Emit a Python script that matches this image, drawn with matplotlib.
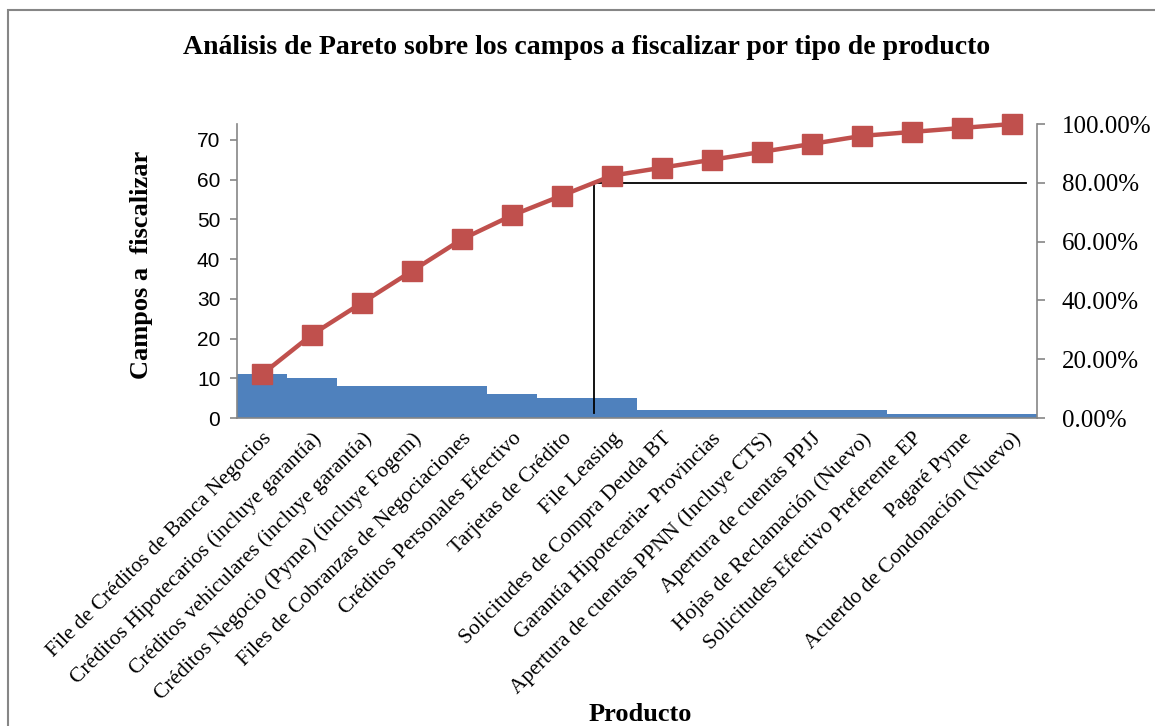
import numpy as np
import matplotlib
matplotlib.use("Agg")
import matplotlib.pyplot as plt
from matplotlib.patches import Rectangle
from matplotlib.ticker import FuncFormatter

productos = [
    "File de Créditos de Banca Negocios",
    "Créditos Hipotecarios (incluye garantía)",
    "Créditos vehiculares (incluye garantía)",
    "Créditos Negocio (Pyme) (incluye Fogem)",
    "Files de Cobranzas de Negociaciones",
    "Créditos Personales Efectivo",
    "Tarjetas de Crédito",
    "File Leasing",
    "Solicitudes de Compra Deuda BT",
    "Garantía Hipotecaria- Provincias",
    "Apertura de cuentas PPNN (Incluye CTS)",
    "Apertura de cuentas PPJJ",
    "Hojas de Reclamación (Nuevo)",
    "Solicitudes Efectivo Preferente EP",
    "Pagaré Pyme",
    "Acuerdo de Condonación (Nuevo)",
]
campos = [11, 10, 8, 8, 8, 6, 5, 5, 2, 2, 2, 2, 2, 1, 1, 1]
acumulado_pct = [14.86, 28.38, 39.19, 50.00, 60.81, 68.92, 75.68, 82.43,
                 85.14, 87.84, 90.54, 93.24, 95.95, 97.30, 98.65, 100.00]
pct_ticks = [0, 20, 40, 60, 80, 100]

# 80% cut-off guide lines (position)
corte_x = 6.64
corte_y = 80
corte_x_fin = 15.28
corte_y_ini = 1.7

azul = "#4F81BD"
rojo = "#C0504D"
gris = "#868686"
serif = ["Liberation Serif", "DejaVu Serif"]
sans = ["Liberation Sans", "DejaVu Sans"]

fig = plt.figure(figsize=(11.55, 7.26), dpi=100)
ax = fig.add_axes([0.2052, 0.4242, 0.6926, 0.405])

x = np.arange(len(productos))
ax.bar(x, campos, width=1.0, color=azul, zorder=2)
ax.set_xlim(-0.5, len(productos) - 0.5)
ax.set_ylim(0, sum(campos))
ax.set_yticks(range(0, 80, 10))
for lbl in ax.get_yticklabels():
    lbl.set_family(sans)
    lbl.set_fontsize(15)
ax.set_xticks(x)
ax.set_xticklabels(productos, rotation=45, ha="right", rotation_mode="anchor",
                   family=serif, fontsize=15.5)
ax.tick_params(axis="x", length=0, pad=8)
ax.tick_params(axis="y", color=gris, length=5, width=1.2, pad=7)
for s in ["top", "right"]:
    ax.spines[s].set_visible(False)
for s in ["left", "bottom"]:
    ax.spines[s].set_color(gris)
    ax.spines[s].set_linewidth(1.2)

ax.set_ylabel("Campos a  fiscalizar", family=serif, fontweight="bold", fontsize=19)
ax.yaxis.set_label_coords(-0.105, 0.52)
ax.set_xlabel("Producto", family=serif, fontweight="bold", fontsize=19)
ax.xaxis.set_label_coords(0.504, -0.97)

ax2 = ax.twinx()
ax2.set_ylim(0, 100)
ax2.set_yticks(pct_ticks)
ax2.yaxis.set_major_formatter(FuncFormatter(lambda v, p: f"{v:.2f}%"))
for lbl in ax2.get_yticklabels():
    lbl.set_family(serif)
    lbl.set_fontsize(18)
ax2.tick_params(axis="y", color=gris, length=6, width=1.2, pad=12)
for s in ["top", "left", "bottom"]:
    ax2.spines[s].set_visible(False)
ax2.spines["right"].set_color(gris)
ax2.spines["right"].set_linewidth(1.2)

ax2.plot([corte_x, corte_x], [corte_y_ini, corte_y], color="black", lw=1.3, zorder=1)
ax2.plot([corte_x, corte_x_fin], [corte_y, corte_y], color="black", lw=1.3, zorder=1)
ax2.plot(x, acumulado_pct, color=rojo, lw=3.2, marker="s", markersize=14,
         zorder=3, clip_on=False)

fig.text(0.5 * (178 + 995) / 1155, 1 - 47 / 726,
         "Análisis de Pareto sobre los campos a fiscalizar por tipo de producto",
         family=serif, fontweight="bold", fontsize=20, ha="center", va="center")

fig.patches.append(Rectangle((0.007, -0.02), 1.1, 1 - 10 / 726 + 0.02,
                             transform=fig.transFigure, fill=False,
                             edgecolor=gris, lw=1.5))

fig.savefig("out.png", dpi=100)
